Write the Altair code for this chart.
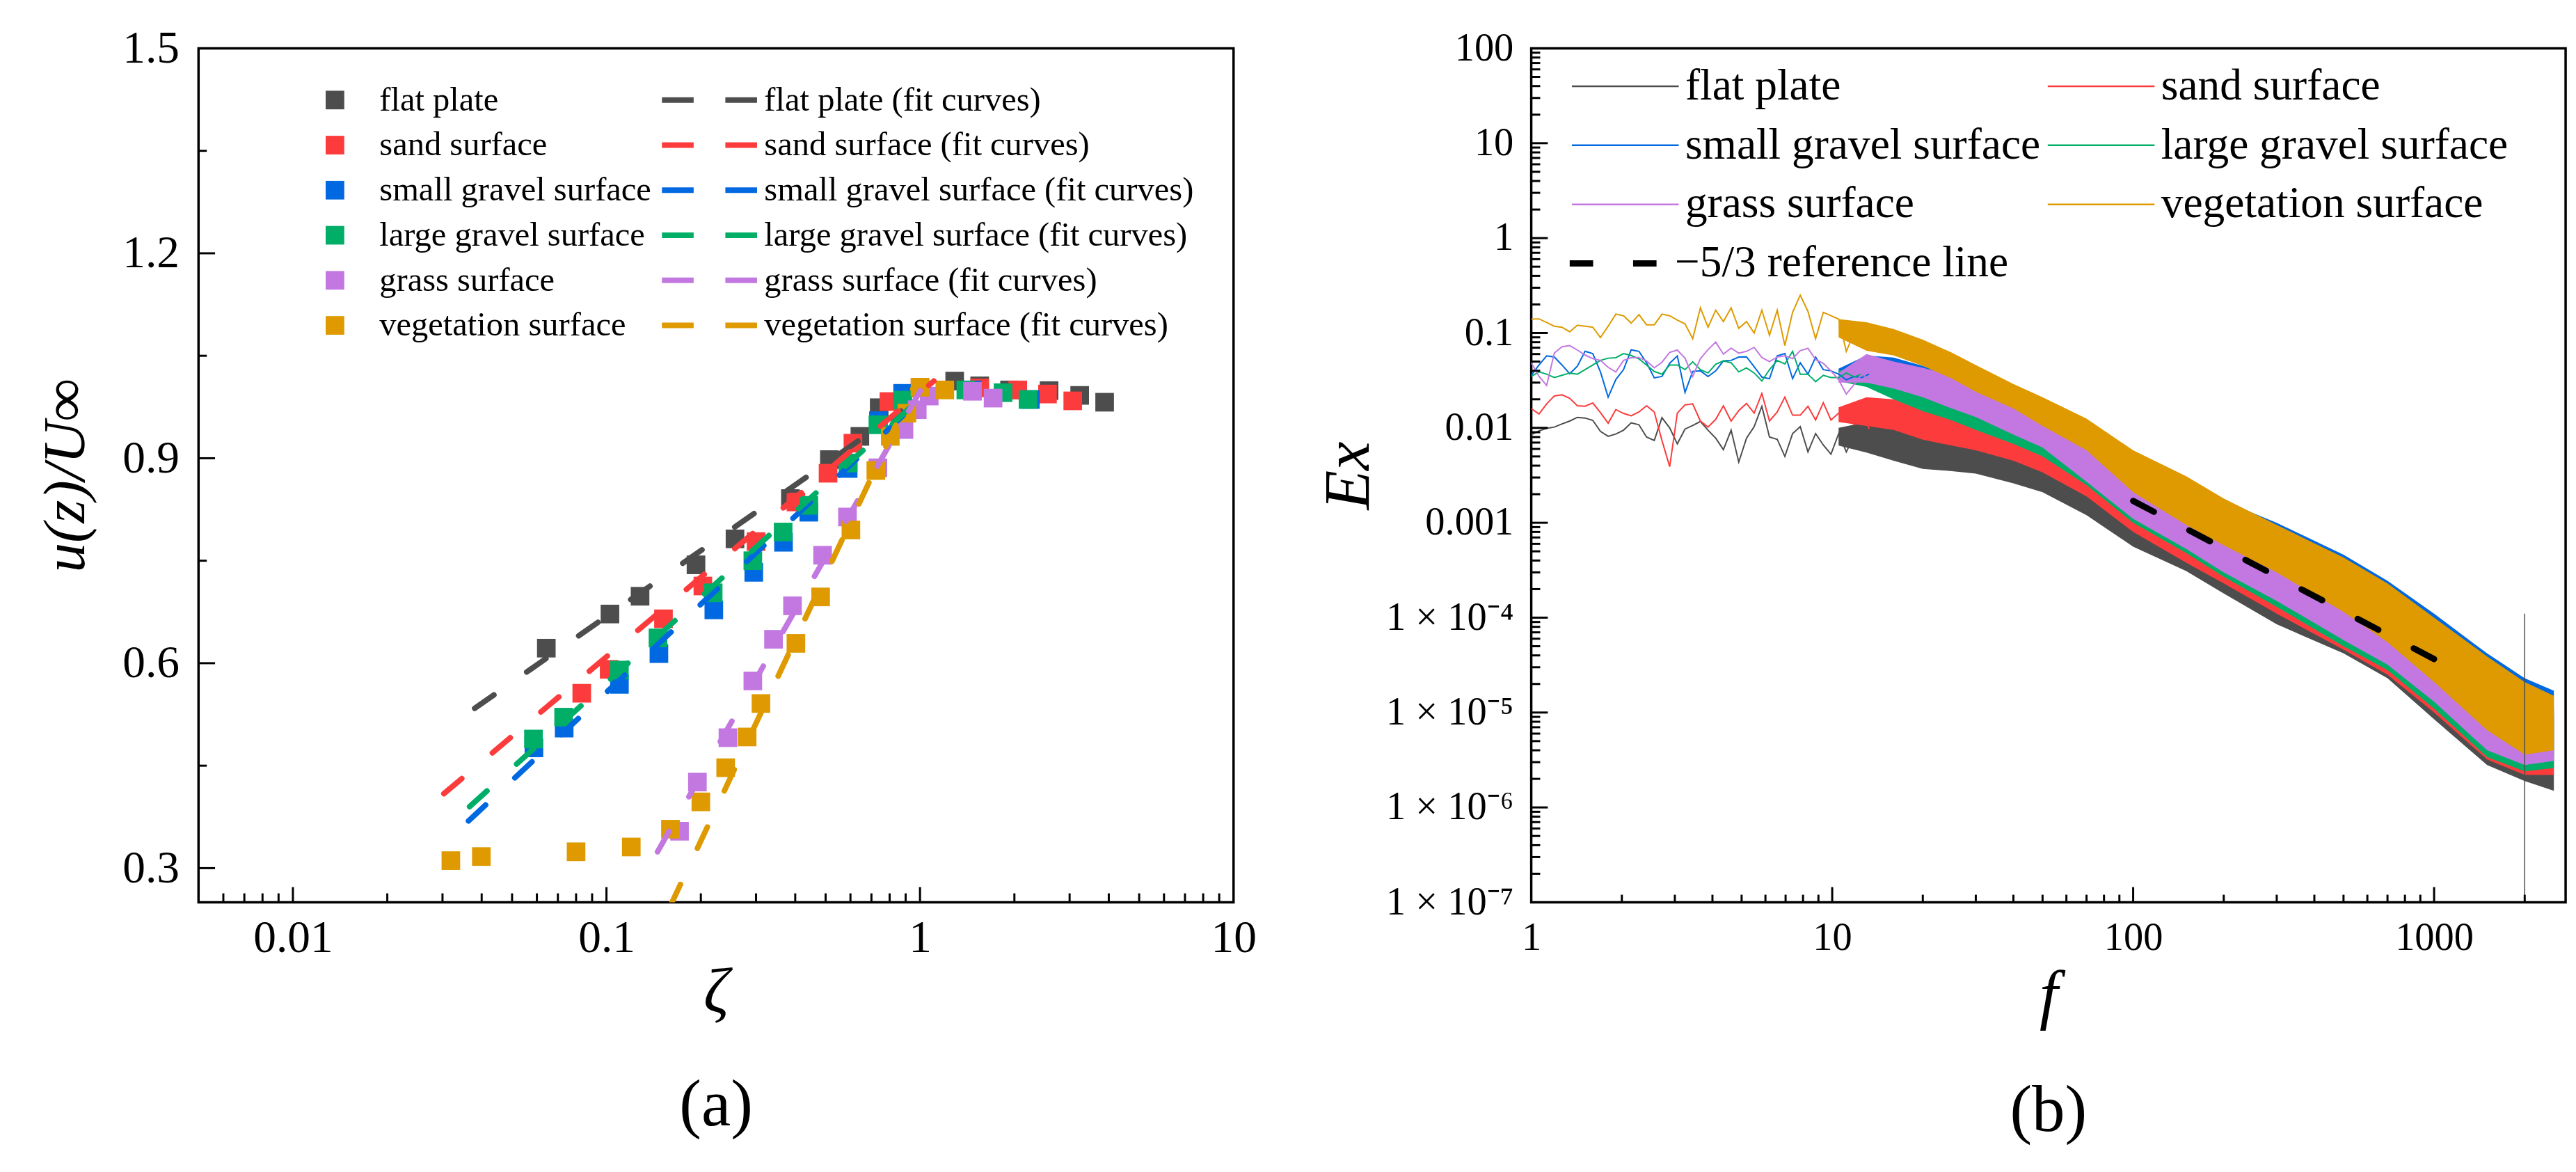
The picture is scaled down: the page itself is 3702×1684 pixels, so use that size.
import altair as alt
import pandas as pd

FONT = "Liberation Serif"

# ---------------------------------------------------------------- panel (a)
surfaces = ["flat plate", "sand surface", "small gravel surface",
            "large gravel surface", "grass surface", "vegetation surface"]
colors = ["#4d4d4d", "#fc3c3c", "#0068e0", "#00ae68", "#c278e0", "#de9a00"]

flat_x = [0.0643, 0.1026, 0.128, 0.193, 0.257, 0.386, 0.514, 0.643, 0.741, 1.29, 1.55, 1.93, 2.58, 3.23, 3.88]
flat_y = [0.622, 0.672, 0.698, 0.744, 0.782, 0.841, 0.898, 0.932, 0.974, 1.013, 1.006, 1.0, 0.999, 0.992, 0.982]
sand_x = [0.0834, 0.102, 0.152, 0.203, 0.30, 0.402, 0.509, 0.611, 0.796, 1.0, 1.55, 2.05, 2.55, 3.07]
sand_y = [0.556, 0.591, 0.665, 0.713, 0.778, 0.836, 0.878, 0.922, 0.983, 1.003, 1.003, 1.0, 0.994, 0.984]
small_x = [0.0587, 0.0733, 0.110, 0.147, 0.22, 0.295, 0.367, 0.442, 0.59, 0.737, 0.88, 1.47, 2.25]
small_y = [0.476, 0.505, 0.569, 0.614, 0.678, 0.733, 0.777, 0.821, 0.885, 0.955, 0.995, 1.0, 0.986]
large_x = [0.0585, 0.073, 0.110, 0.146, 0.219, 0.293, 0.366, 0.442, 0.590, 0.734, 0.881, 1.40, 1.84, 2.21]
large_y = [0.489, 0.521, 0.590, 0.637, 0.703, 0.750, 0.792, 0.831, 0.893, 0.949, 0.985, 1.0, 0.996, 0.986]
grass_x = [0.171, 0.195, 0.244, 0.293, 0.341, 0.392, 0.489, 0.587, 0.734, 0.889, 0.98, 1.07, 1.47, 1.71]
grass_y = [0.354, 0.426, 0.491, 0.574, 0.635, 0.684, 0.758, 0.814, 0.886, 0.942, 0.971, 0.991, 0.998, 0.988]
veg_x = [0.0319, 0.0399, 0.080, 0.120, 0.160, 0.200, 0.240, 0.281, 0.311, 0.402, 0.482, 0.602, 0.723, 0.804, 0.908, 1.0, 1.2]
veg_y = [0.311, 0.317, 0.324, 0.331, 0.357, 0.397, 0.447, 0.492, 0.541, 0.629, 0.697, 0.795, 0.882, 0.932, 0.966, 1.004, 1.0]

# fit curves (end points; straight in log-x)
fit_flat_x = [0.038, 0.87];    fit_flat_y = [0.534, 0.969]
fit_sand_x = [0.0303, 1.107];  fit_sand_y = [0.409, 1.013]
fit_small_x = [0.0363, 1.03];  fit_small_y = [0.369, 0.991]
fit_large_x = [0.0366, 1.11];  fit_large_y = [0.390, 1.006]
fit_grass_x = [0.1455, 1.124]; fit_grass_y = [0.324, 1.039]
fit_veg_x = [0.16, 0.975];     fit_veg_y = [0.245, 1.013]

a_x_vals = [0.01, 0.1, 1, 10]
a_x_labels = ["0.01", "0.1", "1", "10"]
a_y_vals = [0.3, 0.6, 0.9, 1.2, 1.5]
a_x_major = [0.01, 0.1, 1]
a_x_minor = [k * 10.0 ** e for e in range(-3, 1) for k in range(2, 10) if 0.0055 < k * 10.0 ** e < 9.5]
a_y_major = [0.3, 0.6, 0.9, 1.2]
a_y_minor = [0.45, 0.75, 1.05, 1.35]

# ---------------------------------------------------------------- panel (b)
f_low = [1.000, 1.061, 1.125, 1.193, 1.265, 1.342, 1.423, 1.509, 1.601, 1.698, 1.801, 1.910,
         2.026, 2.148, 2.279, 2.416, 2.563, 2.718, 2.884, 3.057, 3.243, 3.439, 3.648, 3.867,
         4.102, 4.349, 4.614, 4.892, 5.190, 5.503, 5.838, 6.188, 6.566, 6.961, 7.385, 7.830,
         8.306, 8.807, 9.343, 9.906, 10.51, 11.14, 11.82, 12.54, 13.27]
ex_flat = [0.00847, 0.00930, 0.00989, 0.0102, 0.0110, 0.0118, 0.0129, 0.0127, 0.0120, 0.00920,
           0.00815, 0.00862, 0.00946, 0.0113, 0.0108, 0.00801, 0.00737, 0.0128, 0.0100, 0.00678,
           0.00973, 0.0106, 0.0117, 0.00946, 0.00779, 0.00590, 0.00946, 0.00436, 0.00779, 0.0103,
           0.0169, 0.00801, 0.00758, 0.00500, 0.00871, 0.0103, 0.00558, 0.00871, 0.00659, 0.00528,
           0.00871, 0.00558, 0.00824, 0.00659, 0.00920]
ex_sand = [0.0160, 0.0140, 0.0179, 0.0217, 0.0223, 0.0205, 0.0171, 0.0169, 0.0183, 0.0145,
           0.0112, 0.0156, 0.0142, 0.0134, 0.0147, 0.0171, 0.0147, 0.00737, 0.00390, 0.0143,
           0.0175, 0.0179, 0.0118, 0.0102, 0.0123, 0.0171, 0.0118, 0.0152, 0.0181, 0.0143,
           0.0230, 0.0118, 0.0147, 0.0211, 0.0136, 0.0136, 0.0169, 0.0121, 0.0184, 0.0121,
           0.0143, 0.0140, 0.0109, 0.0143, 0.00973]
ex_small = [0.0358, 0.0460, 0.0574, 0.0558, 0.0460, 0.0372, 0.0447, 0.0641, 0.0607, 0.0389,
            0.0211, 0.0323, 0.0411, 0.0664, 0.0641, 0.0486, 0.0337, 0.0348, 0.0480, 0.0574,
            0.0236, 0.0393, 0.0399, 0.0348, 0.0399, 0.0508, 0.0514, 0.0558, 0.0561, 0.0442,
            0.0343, 0.0330, 0.0574, 0.0607, 0.0330, 0.0486, 0.0368, 0.0558, 0.0411, 0.0399,
            0.0368, 0.0321, 0.0348, 0.0339, 0.0368]
ex_large = [0.0348, 0.0389, 0.0368, 0.0339, 0.0358, 0.0379, 0.0368, 0.0411, 0.0460, 0.0514,
            0.0543, 0.0549, 0.0607, 0.0580, 0.0534, 0.0460, 0.0393, 0.0368, 0.0460, 0.0460,
            0.0411, 0.0497, 0.0411, 0.0379, 0.0468, 0.0508, 0.0486, 0.0389, 0.0428, 0.0379,
            0.0312, 0.0411, 0.0514, 0.0472, 0.0641, 0.0368, 0.0368, 0.0307, 0.0358, 0.0339,
            0.0339, 0.0379, 0.0344, 0.0368, 0.0330]
ex_grass = [0.0486, 0.0350, 0.0280, 0.0614, 0.0717, 0.0737, 0.0661, 0.0587, 0.0537, 0.0514,
            0.0435, 0.0389, 0.0514, 0.0549, 0.0552, 0.0508, 0.0430, 0.0492, 0.0624, 0.0661,
            0.0543, 0.0348, 0.0537, 0.0668, 0.0801, 0.0600, 0.0694, 0.0614, 0.0641, 0.0705,
            0.0552, 0.0500, 0.0558, 0.0574, 0.0537, 0.0652, 0.0690, 0.0525, 0.0478, 0.0399,
            0.0321, 0.0227, 0.0287, 0.0368, 0.0330]
ex_veg = [0.140, 0.141, 0.129, 0.118, 0.115, 0.103, 0.121, 0.118, 0.115, 0.0895,
          0.118, 0.158, 0.152, 0.127, 0.156, 0.122, 0.122, 0.158, 0.152, 0.137,
          0.125, 0.0871, 0.184, 0.115, 0.174, 0.132, 0.184, 0.112, 0.132, 0.100,
          0.174, 0.0946, 0.174, 0.0737, 0.165, 0.250, 0.169, 0.0871, 0.165, 0.152,
          0.140, 0.0641, 0.100, 0.0895, 0.0801]

# envelope (lower / upper) of the dense noisy part of each spectrum
band_f = [10.5, 13, 16, 20, 25, 30, 40, 50, 70, 100, 150, 200, 300, 500, 700, 1000, 1500, 2000, 2500]
flat_lo = [0.0065, 0.0055, 0.0045, 0.0037, 0.0035, 0.0033, 0.0026, 0.0021, 0.0012, 5.6e-4, 3.1e-4, 1.8e-4, 8.5e-5, 4.2e-5, 2.3e-5, 8.5e-6, 2.8e-6, 1.9e-6, 1.5e-6]
flat_hi = [0.0100, 0.0115, 0.011, 0.0095, 0.0085, 0.0075, 0.0065, 0.0055, 0.0042, 0.0025, 0.0015, 9.5e-4, 5.5e-4, 2.6e-4, 1.4e-4, 6.0e-5, 2.2e-5, 1.3e-5, 9.0e-6]
sand_lo = [0.0115, 0.0105, 0.0095, 0.0075, 0.0065, 0.0058, 0.0045, 0.0034, 0.0019, 8.0e-4, 3.8e-4, 2.3e-4, 1.1e-4, 4.6e-5, 2.5e-5, 1.0e-5, 3.2e-6, 2.2e-6, 2.2e-6]
sand_hi = [0.0165, 0.021, 0.020, 0.018, 0.016, 0.0135, 0.011, 0.009, 0.0065, 0.0035, 0.002, 0.0012, 6.5e-4, 3.0e-4, 1.6e-4, 7.0e-5, 2.6e-5, 1.5e-5, 1.0e-5]
small_lo = [0.032, 0.028, 0.022, 0.017, 0.014, 0.011, 0.0078, 0.0058, 0.003, 0.0013, 6.5e-4, 3.6e-4, 1.8e-4, 7.0e-5, 3.6e-5, 1.5e-5, 4.5e-6, 3.0e-6, 3.4e-6]
small_hi = [0.042, 0.058, 0.055, 0.045, 0.038, 0.032, 0.024, 0.019, 0.012, 0.0052, 0.0029, 0.0017, 1.0e-3, 4.6e-4, 2.45e-4, 1.1e-4, 4.2e-5, 2.3e-5, 1.7e-5]
large_lo = [0.031, 0.027, 0.020, 0.015, 0.012, 0.0095, 0.0068, 0.005, 0.0025, 0.001, 4.8e-4, 2.7e-4, 1.3e-4, 5.0e-5, 2.8e-5, 1.1e-5, 3.4e-6, 2.4e-6, 2.6e-6]
large_hi = [0.040, 0.048, 0.045, 0.038, 0.032, 0.026, 0.019, 0.015, 0.009, 0.0045, 0.0024, 0.0014, 7.5e-4, 3.4e-4, 1.8e-4, 7.5e-5, 2.8e-5, 1.6e-5, 1.1e-5]
grass_lo = [0.030, 0.030, 0.026, 0.021, 0.016, 0.013, 0.0085, 0.0062, 0.0027, 0.0011, 5.3e-4, 3.0e-4, 1.5e-4, 5.8e-5, 3.2e-5, 1.3e-5, 4.0e-6, 2.8e-6, 3.1e-6]
grass_hi = [0.038, 0.060, 0.050, 0.043, 0.036, 0.030, 0.022, 0.017, 0.0105, 0.005, 0.0026, 0.0015, 8.0e-4, 3.6e-4, 1.9e-4, 8.0e-5, 3.0e-5, 1.7e-5, 1.2e-5]
veg_lo = [0.090, 0.065, 0.058, 0.045, 0.033, 0.024, 0.016, 0.0105, 0.0058, 0.0021, 9.5e-4, 5.8e-4, 3.0e-4, 1.15e-4, 5.5e-5, 2.1e-5, 6.5e-6, 3.6e-6, 4.0e-6]
veg_hi = [0.140, 0.130, 0.110, 0.085, 0.062, 0.046, 0.029, 0.021, 0.0125, 0.0058, 0.0031, 0.0018, 9.5e-4, 4.3e-4, 2.3e-4, 1.0e-4, 3.9e-5, 2.1e-5, 1.5e-5]

spike_f = [2000]; spike_lo = [1e-7]; spike_hi = [1.1e-4]   # single spike of the flat-plate spectrum
ref_f = [100, 1000]; ref_ex = [1.7e-3, 3.66e-5]
ref_name = "\u22125/3 reference line"

b_x_vals = [1, 10, 100, 1000]
b_x_labels = ["1", "10", "100", "1000"]
b_y_vals = [1e-7, 1e-6, 1e-5, 1e-4, 1e-3, 1e-2, 0.1, 1, 10, 100]
b_y_labels = ["1 \u00d7 10\u207b\u2077", "1 \u00d7 10\u207b\u2076", "1 \u00d7 10\u207b\u2075",
              "1 \u00d7 10\u207b\u2074", "0.001", "0.01", "0.1", "1", "10", "100"]
b_x_major = [10, 100, 1000]
b_x_minor = [k * 10.0 ** e for e in range(0, 4) for k in range(2, 10) if k * 10.0 ** e < 2700]
b_y_major = [1e-6, 1e-5, 1e-4, 1e-3, 1e-2, 0.1, 1, 10]
b_y_minor = [k * 10.0 ** e for e in range(-7, 2) for k in range(2, 10)]

# legend of (b) is filled column by column: this order shows it row by row
b_legend_order = [0, 2, 4, 1, 3, 5]

# ---------------------------------------------------------------- helpers
W, H = 1502, 1239


def label_expr(vals, labels):
    expr = repr(labels[-1])
    for i in range(len(vals) - 2, -1, -1):
        mid = (vals[i] * vals[i + 1]) ** 0.5
        expr = f"datum.value < {mid} ? {labels[i]!r} : ({expr})"
    return expr


def xticks(vals, length, scale):
    return alt.Chart(pd.DataFrame({"v": vals})).mark_rule(color="black", strokeWidth=3).encode(
        x=alt.X("v:Q", scale=scale), y=alt.value(H), y2=alt.value(H - length))


def yticks(vals, length, scale):
    return alt.Chart(pd.DataFrame({"v": vals})).mark_rule(color="black", strokeWidth=3).encode(
        y=alt.Y("v:Q", scale=scale), x=alt.value(0), x2=alt.value(length))


axis_common = dict(domain=False, ticks=False, tickSize=0, grid=False, labelFont=FONT,
                   labelColor="black", labelFlush=False, labelOverlap=False, labelLimit=1000,
                   titleFont=FONT, titleFontStyle="italic", titleFontWeight="normal",
                   titleColor="black")

# ---------------------------------------------------------------- chart (a)
pts_rows = []
for name, xs, ys in zip(surfaces, [flat_x, sand_x, small_x, large_x, grass_x, veg_x],
                        [flat_y, sand_y, small_y, large_y, grass_y, veg_y]):
    pts_rows += [{"surface": name, "zeta": x, "u": y} for x, y in zip(xs, ys)]
df_pts = pd.DataFrame(pts_rows)

fit_labels = [s + " (fit curves)" for s in surfaces]
fit_rows = []
for name, xs, ys in zip(fit_labels,
                        [fit_flat_x, fit_sand_x, fit_small_x, fit_large_x, fit_grass_x, fit_veg_x],
                        [fit_flat_y, fit_sand_y, fit_small_y, fit_large_y, fit_grass_y, fit_veg_y]):
    fit_rows += [{"fit": name, "zeta": x, "u": y} for x, y in zip(xs, ys)]
df_fit = pd.DataFrame(fit_rows)

xa = alt.Scale(type="log", domain=[0.005, 10])
ya = alt.Scale(domain=[0.25, 1.5], nice=False, zero=False)

points = alt.Chart(df_pts).mark_square(size=729, opacity=1).encode(
    x=alt.X("zeta:Q", scale=xa, axis=alt.Axis(
        values=a_x_vals, labelExpr=label_expr(a_x_vals, a_x_labels), labelFontSize=66,
        labelPadding=20, title="\u03b6", titleFontSize=92, titleY=86, **axis_common)),
    y=alt.Y("u:Q", scale=ya, axis=alt.Axis(
        values=a_y_vals, format=".1f", labelFontSize=66, labelPadding=28,
        title="u(z)/U\u221e", titleFontSize=86, titlePadding=38, **axis_common)),
    color=alt.Color("surface:N", scale=alt.Scale(domain=surfaces, range=colors),
                    legend=alt.Legend(title=None, orient="none", legendX=173.5, legendY=50.5,
                                      direction="vertical", symbolType="square", symbolSize=729,
                                      symbolStrokeWidth=0, labelFont=FONT, labelFontSize=49,
                                      labelColor="black", labelOffset=40, rowPadding=15.4,
                                      padding=0, labelLimit=1000)),
)

fits = alt.Chart(df_fit).mark_line(strokeWidth=8, strokeDash=[34, 58], strokeCap="round",
                                    clip=True).encode(
    x=alt.X("zeta:Q", scale=xa),
    y=alt.Y("u:Q", scale=ya),
    stroke=alt.Stroke("fit:N", scale=alt.Scale(domain=fit_labels, range=colors),
                      legend=alt.Legend(title=None, orient="none", legendX=728.5, legendY=50.5,
                                        direction="vertical", symbolType="M-4,0L4,0",
                                        symbolSize=1620, symbolStrokeWidth=8, symbolDash=[46, 46],
                                        labelFont=FONT, labelFontSize=49, labelColor="black",
                                        labelOffset=43.5, rowPadding=15.4, padding=0,
                                        labelLimit=1000)),
)

chart_a = alt.layer(
    points, fits,
    xticks(a_x_major, 22, xa), xticks(a_x_minor, 13, xa),
    yticks(a_y_major, 24, ya), yticks(a_y_minor, 12, ya),
).properties(width=W, height=H, title=alt.TitleParams(
    "(a)", orient="bottom", font=FONT, fontSize=96, fontWeight="normal", color="black",
    anchor="middle", frame="group", offset=71))

# ---------------------------------------------------------------- chart (b)
xb = alt.Scale(type="log", domain=[1, 2735], nice=False)
yb = alt.Scale(type="log", domain=[1e-7, 100], nice=False)

band_layers = []
for c, lo, hi in zip(colors, [flat_lo, sand_lo, small_lo, large_lo, grass_lo, veg_lo],
                     [flat_hi, sand_hi, small_hi, large_hi, grass_hi, veg_hi]):
    df = pd.DataFrame({"f": band_f, "lo": lo, "hi": hi})
    band_layers.append(alt.Chart(df).mark_area(color=c, opacity=1, clip=True).encode(
        x=alt.X("f:Q", scale=xb), y=alt.Y("lo:Q", scale=yb), y2="hi:Q"))

line_rows = []
for name, es in zip(surfaces, [ex_flat, ex_sand, ex_small, ex_large, ex_grass, ex_veg]):
    line_rows += [{"series": name, "f": f, "Ex": e} for f, e in zip(f_low, es)]
df_lines = pd.DataFrame(line_rows)

lines = alt.Chart(df_lines).mark_line(strokeWidth=2, clip=True).encode(
    x=alt.X("f:Q", scale=xb, axis=alt.Axis(
        values=b_x_vals, labelExpr=label_expr(b_x_vals, b_x_labels), labelFontSize=57,
        labelPadding=24, title="f", titleFontSize=96, titleY=90, **axis_common)),
    y=alt.Y("Ex:Q", scale=yb, axis=alt.Axis(
        values=b_y_vals, labelExpr=label_expr(b_y_vals, b_y_labels), labelFontSize=57,
        labelPadding=26, title="Ex", titleFontSize=94, titlePadding=16, **axis_common)),
    color=alt.Color("series:N",
                    scale=alt.Scale(domain=[surfaces[i] for i in b_legend_order],
                                    range=[colors[i] for i in b_legend_order]),
                    legend=alt.Legend(title=None, orient="none", legendX=104.5, legendY=23,
                                      columns=2, symbolType="M-4,0L4,0", symbolSize=1502,
                                      symbolStrokeWidth=2.5, labelFont=FONT, labelFontSize=64,
                                      labelColor="black", labelOffset=55, rowPadding=21.7,
                                      columnPadding=4.5, padding=0, labelLimit=1000)),
)

spike = alt.Chart(pd.DataFrame({"f": spike_f, "lo": spike_lo, "hi": spike_hi})).mark_rule(
    color=colors[0], strokeWidth=1.5, clip=True).encode(
    x=alt.X("f:Q", scale=xb), y=alt.Y("lo:Q", scale=yb), y2="hi:Q")

ref = alt.Chart(pd.DataFrame({"f": ref_f, "Ex": ref_ex, "name": [ref_name] * 2})).mark_line(
    color="black", strokeWidth=9, strokeCap="round").encode(
    x=alt.X("f:Q", scale=xb), y=alt.Y("Ex:Q", scale=yb),
    strokeDash=alt.StrokeDash("name:N", scale=alt.Scale(domain=[ref_name], range=[[34, 58]]),
                              legend=alt.Legend(title=None, orient="none", legendX=94.5,
                                                legendY=280, symbolType="M-4,0L4,0",
                                                symbolSize=1250, symbolStrokeColor="black",
                                                symbolStrokeWidth=9, labelFont=FONT,
                                                labelFontSize=64, labelColor="black",
                                                labelOffset=50, padding=0, labelLimit=1000)),
)

chart_b = alt.layer(
    *band_layers, lines, spike, ref,
    xticks(b_x_major, 22, xb), xticks(b_x_minor, 11, xb),
    yticks(b_y_major, 24, yb), yticks(b_y_minor, 13, yb),
).properties(width=W - 1, height=H, title=alt.TitleParams(
    "(b)", orient="bottom", font=FONT, fontSize=96, fontWeight="normal", color="black",
    anchor="middle", frame="group", offset=71))

chart = alt.hconcat(chart_a, chart_b, spacing=84).resolve_scale(
    color="independent", stroke="independent", strokeDash="independent"
).resolve_legend(
    color="independent", stroke="independent", strokeDash="independent"
).configure(
    font=FONT, padding={"left": 42, "top": 19, "right": 5, "bottom": 5}, background="white"
).configure_view(stroke="black", strokeWidth=3.5)

chart.save("out.html", embed_options={"renderer": "svg", "actions": False})
